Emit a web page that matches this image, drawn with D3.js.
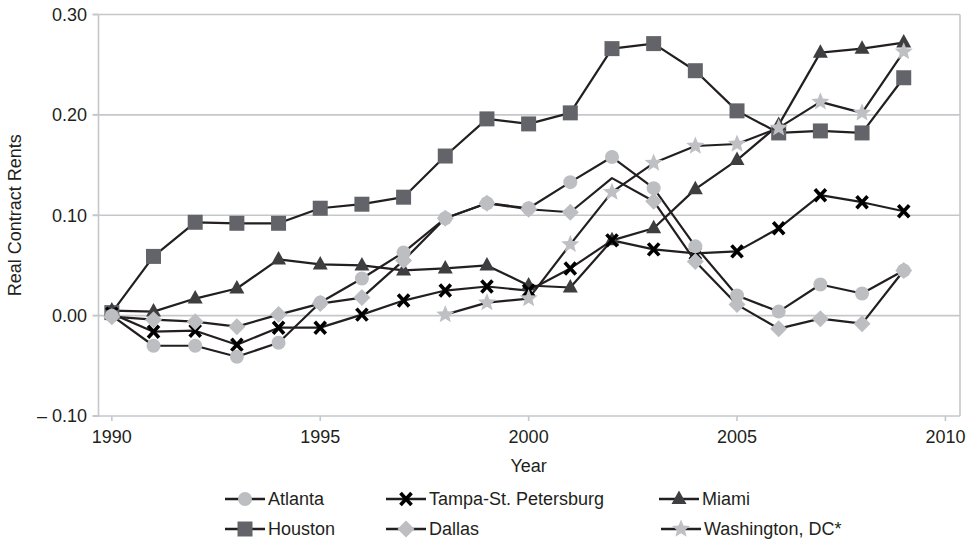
<!DOCTYPE html>
<html>
<head>
<meta charset="utf-8">
<script src="https://cdn.jsdelivr.net/npm/d3@7"></script>
<style>
  body { margin: 0; background: #fff; }
  svg text { font-family: "Liberation Sans", Arial, Helvetica, sans-serif; fill: #231f20; font-size: 18px; }
</style>
</head>
<body>
<div id="chart"></div>
<script>
// values
const years = [1990, 1991, 1992, 1993, 1994, 1995, 1996, 1997, 1998, 1999,
               2000, 2001, 2002, 2003, 2004, 2005, 2006, 2007, 2008, 2009];
const atlanta = [0.000, -0.030, -0.030, -0.041, -0.027, 0.013, 0.037, 0.063, 0.097, 0.112,
                 0.107, 0.133, 0.158, 0.127, 0.069, 0.020, 0.004, 0.031, 0.022, 0.045];
const tampa = [0.002, -0.016, -0.015, -0.029, -0.012, -0.012, 0.001, 0.015, 0.025, 0.029,
               0.025, 0.047, 0.075, 0.066, 0.062, 0.064, 0.087, 0.120, 0.113, 0.104];
const miami = [0.005, 0.004, 0.017, 0.027, 0.056, 0.051, 0.050, 0.045, 0.047, 0.050,
               0.030, 0.028, 0.075, 0.087, 0.126, 0.155, 0.190, 0.262, 0.266, 0.272];
const houston = [0.003, 0.059, 0.093, 0.092, 0.092, 0.107, 0.111, 0.118, 0.159, 0.196,
                 0.191, 0.202, 0.266, 0.271, 0.244, 0.204, 0.182, 0.184, 0.182, 0.237];
const dallas = [-0.001, -0.004, -0.006, -0.011, 0.001, 0.012, 0.018, 0.055, 0.097, 0.112,
                0.106, 0.103, 0.137, 0.114, 0.054, 0.011, -0.013, -0.003, -0.008, 0.045];
const washington = [null, null, null, null, null, null, null, null, 0.001, 0.013,
                    0.017, 0.071, 0.123, 0.152, 0.169, 0.171, 0.187, 0.213, 0.202, 0.263];
// the Dallas 2002 point has no marker in the original
const dallasNoMarker = [2002];

const yTicks = [-0.10, 0.00, 0.10, 0.20, 0.30];
const yTickLabels = ["\u2013 0.10", "0.00", "0.10", "0.20", "0.30"];
const xTicks = [1990, 1995, 2000, 2005, 2010];

const width = 966, height = 543;
const plotLeft = 98.5, plotRight = 960, plotTop = 14.5, plotBottom = 416;

const svg = d3.select("#chart").append("svg")
    .attr("width", width)
    .attr("height", height);

const x = d3.scaleLinear().domain([1989.68, 2010.35]).range([plotLeft, plotRight]);
const y = d3.scaleLinear().domain([-0.10, 0.30]).range([plotBottom, plotTop]);

const gridColor = "#c6c7cb";
const lineColor = "#231f20";

// grid lines
svg.append("g").selectAll("line")
    .data(yTicks)
    .enter().append("line")
    .attr("x1", plotLeft).attr("x2", plotRight)
    .attr("y1", d => y(d)).attr("y2", d => y(d))
    .attr("stroke", gridColor)
    .attr("stroke-width", 1.6);

// frame: left and right edges
svg.append("line")
    .attr("x1", plotLeft).attr("x2", plotLeft).attr("y1", plotTop).attr("y2", plotBottom + 1)
    .attr("stroke", gridColor).attr("stroke-width", 1.6);
svg.append("line")
    .attr("x1", plotRight).attr("x2", plotRight).attr("y1", plotTop).attr("y2", plotBottom)
    .attr("stroke", gridColor).attr("stroke-width", 1.6);

// y ticks + labels
svg.append("g").selectAll("line")
    .data(yTicks)
    .enter().append("line")
    .attr("x1", plotLeft - 6).attr("x2", plotLeft)
    .attr("y1", d => y(d)).attr("y2", d => y(d))
    .attr("stroke", gridColor).attr("stroke-width", 2);

svg.append("g").selectAll("text")
    .data(yTicks)
    .enter().append("text")
    .attr("x", 87)
    .attr("y", d => y(d))
    .attr("dy", "0.35em")
    .attr("text-anchor", "end")
    .text((d, i) => yTickLabels[i]);

// x ticks + labels
svg.append("g").selectAll("line")
    .data(xTicks)
    .enter().append("line")
    .attr("x1", d => x(d)).attr("x2", d => x(d))
    .attr("y1", plotBottom).attr("y2", plotBottom + 5)
    .attr("stroke", gridColor).attr("stroke-width", 1.6);

svg.append("g").selectAll("text")
    .data(xTicks)
    .enter().append("text")
    .attr("x", d => x(d))
    .attr("y", 437)
    .attr("dy", "0.35em")
    .attr("text-anchor", "middle")
    .text(d => d);

// axis titles
svg.append("text")
    .attr("x", (x(1990) + x(2010)) / 2)
    .attr("y", 466)
    .attr("dy", "0.35em")
    .attr("text-anchor", "middle")
    .text("Year");

svg.append("text")
    .attr("transform", `translate(15,${(plotTop + plotBottom) / 2}) rotate(-90)`)
    .attr("dy", "0.35em")
    .attr("text-anchor", "middle")
    .text("Real Contract Rents");

// marker shapes
function starPath(ro, ri) {
    let p = "";
    for (let k = 0; k < 10; k++) {
        const r = k % 2 === 0 ? ro : ri;
        const a = -Math.PI / 2 + k * Math.PI / 5;
        p += (k === 0 ? "M" : "L") + (r * Math.cos(a)).toFixed(2) + "," + (r * Math.sin(a)).toFixed(2);
    }
    return p + "Z";
}
const shapes = {
    circle: { d: "M7,0A7,7 0 1,1 -7,0A7,7 0 1,1 7,0Z", fill: "#bdbec2" },
    cross: { d: "M-5.5,-6L5.5,6M5.5,-6L-5.5,6", fill: "none", stroke: "#000", sw: 3.6 },
    triangle: { d: "M0,-8.5L7.5,5L-7.5,5Z", fill: "#3e3e41" },
    square: { d: "M-7.5,-7.5H7.5V7.5H-7.5Z", fill: "#636469" },
    diamond: { d: "M0,-8.5L8.5,0L0,8.5L-8.5,0Z", fill: "#bdbec2" },
    star: { d: starPath(9.5, 4.2), fill: "#bfc0c4" }
};

const series = [
    { name: "Houston", values: houston, shape: "square" },
    { name: "Miami", values: miami, shape: "triangle" },
    { name: "Tampa-St. Petersburg", values: tampa, shape: "cross" },
    { name: "Dallas", values: dallas, shape: "diamond", noMarker: dallasNoMarker },
    { name: "Atlanta", values: atlanta, shape: "circle" },
    { name: "Washington, DC*", values: washington, shape: "star" }
];

const line = d3.line()
    .defined(d => d.v !== null)
    .x(d => x(d.year))
    .y(d => y(d.v));

series.forEach(s => {
    s.points = years.map((yr, i) => ({ year: yr, v: s.values[i] }));
});

svg.append("g").selectAll("path")
    .data(series)
    .enter().append("path")
    .attr("d", s => line(s.points))
    .attr("fill", "none")
    .attr("stroke", lineColor)
    .attr("stroke-width", 2.2)
    .attr("stroke-linejoin", "round");

function drawMarker(g, shape, cx, cy, scale) {
    const sh = shapes[shape];
    g.append("path")
        .attr("d", sh.d)
        .attr("transform", `translate(${cx},${cy}) scale(${scale || 1})`)
        .attr("fill", sh.fill)
        .attr("stroke", sh.stroke || "none")
        .attr("stroke-width", sh.sw || 0);
}

const markers = svg.append("g");
series.forEach(s => {
    s.points.forEach(p => {
        if (p.v === null) return;
        if (s.noMarker && s.noMarker.includes(p.year)) return;
        drawMarker(markers, s.shape, x(p.year), y(p.v));
    });
});

// legend
const legendItems = [
    { name: "Atlanta", shape: "circle", lx: 225, ly: 499 },
    { name: "Tampa-St. Petersburg", shape: "cross", lx: 386, ly: 499 },
    { name: "Miami", shape: "triangle", lx: 659, ly: 499 },
    { name: "Houston", shape: "square", lx: 225, ly: 529 },
    { name: "Dallas", shape: "diamond", lx: 386, ly: 529 },
    { name: "Washington, DC*", shape: "star", lx: 661, ly: 529 }
];

const legend = svg.append("g");
legendItems.forEach(it => {
    legend.append("line")
        .attr("x1", it.lx).attr("x2", it.lx + 40)
        .attr("y1", it.ly).attr("y2", it.ly)
        .attr("stroke", lineColor).attr("stroke-width", 2.6);
    drawMarker(legend, it.shape, it.lx + 20, it.ly, 1);
    legend.append("text")
        .attr("x", it.lx + 43)
        .attr("y", it.ly)
        .attr("dy", "0.35em")
        .text(it.name);
});
</script>
</body>
</html>
